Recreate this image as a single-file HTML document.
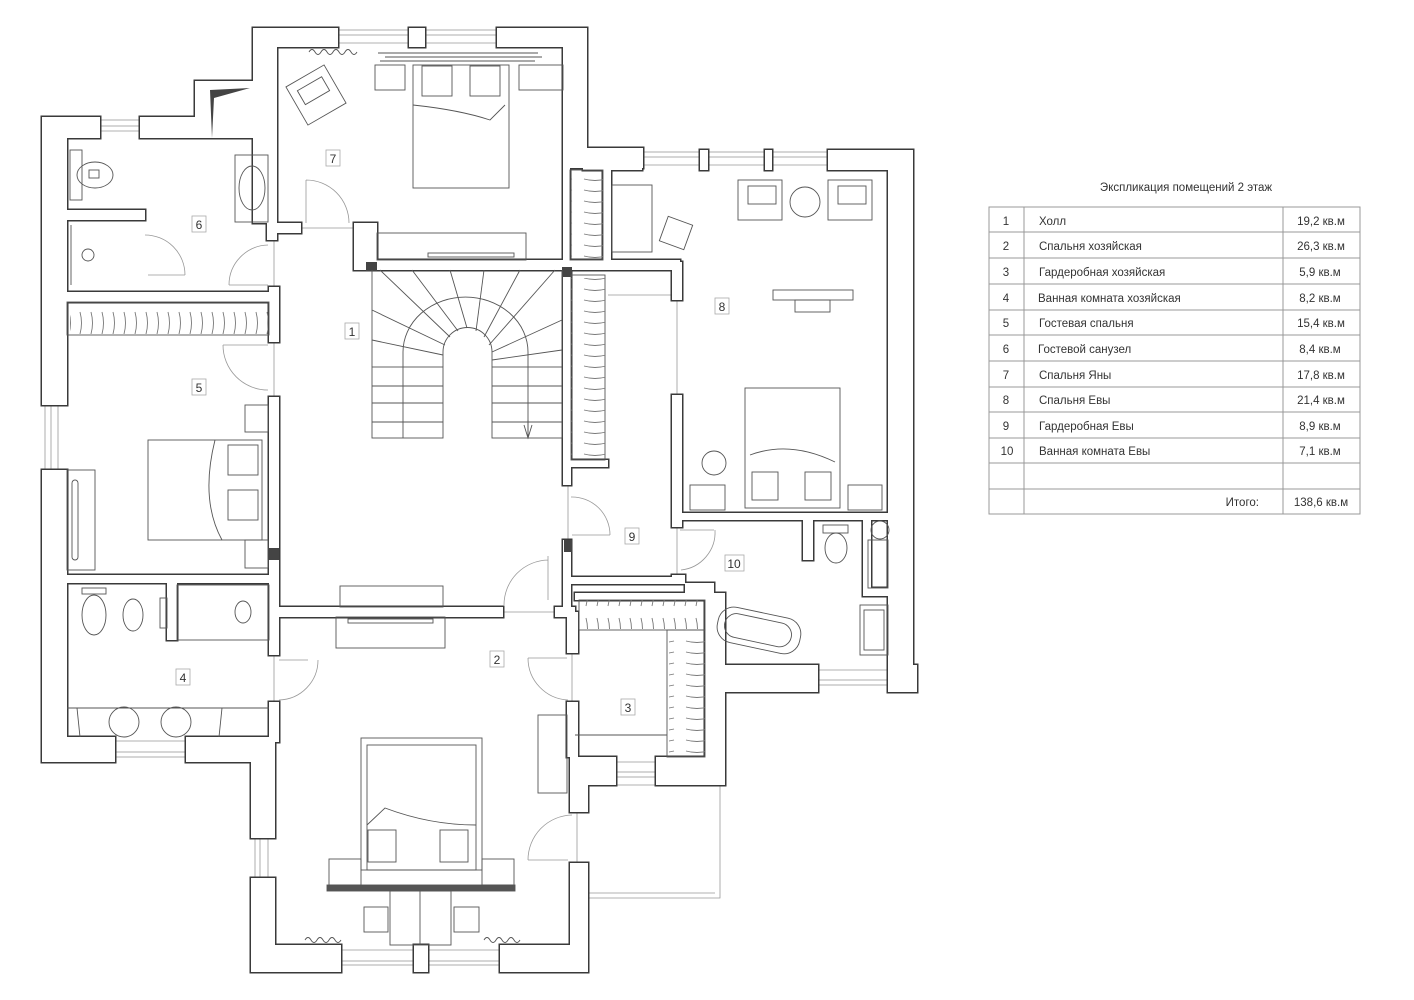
<!DOCTYPE html>
<html><head><meta charset="utf-8">
<style>
html,body{margin:0;padding:0;background:#fff;}
svg{display:block;}
text{font-family:"Liberation Sans",Arial,sans-serif;fill:#333;}
</style></head>
<body>
<svg width="1414" height="1000" viewBox="0 0 1414 1000" xmlns="http://www.w3.org/2000/svg">
<defs>
<g id="walls">
 <!-- exterior -->
 <rect x="42" y="117" width="25" height="288"/>
 <rect x="42" y="470" width="25" height="292"/>
 <rect x="42" y="737" width="73" height="25"/>
 <rect x="186" y="737" width="89" height="25"/>
 <rect x="251" y="737" width="24" height="101"/>
 <rect x="251" y="878" width="24" height="94"/>
 <rect x="251" y="945" width="90" height="27"/>
 <rect x="414" y="945" width="14" height="27"/>
 <rect x="500" y="945" width="88" height="27"/>
 <rect x="570" y="863" width="18" height="109"/>
 <rect x="570" y="784" width="18" height="28"/>
 <rect x="570" y="757" width="46" height="28"/>
 <rect x="656" y="757" width="69" height="28"/>
 <rect x="705" y="593" width="20" height="192"/>
 <rect x="705" y="665" width="113" height="27"/>
 <rect x="892" y="665" width="25" height="27"/>
 <rect x="888" y="150" width="25" height="542"/>
 <rect x="583" y="150" width="59" height="20"/>
 <rect x="700" y="150" width="8" height="20"/>
 <rect x="765" y="150" width="7" height="20"/>
 <rect x="828" y="150" width="85" height="20"/>
 <rect x="563" y="28" width="24" height="140"/>
 <rect x="563" y="148" width="80" height="20"/>
 <rect x="253" y="28" width="85" height="19"/>
 <rect x="409" y="28" width="16" height="19"/>
 <rect x="497" y="28" width="90" height="19"/>
 <rect x="253" y="28" width="24" height="195"/>
 <rect x="195" y="81" width="82" height="57"/>
 <rect x="140" y="117" width="60" height="21"/>
 <rect x="42" y="117" width="58" height="21"/>
 <!-- interior -->
 <rect x="267" y="138" width="10" height="102"/>
 <rect x="277" y="223" width="24" height="10"/>
 <rect x="354" y="223" width="23" height="47"/>
 <rect x="377" y="260" width="303" height="10"/>
 <rect x="563" y="167" width="7" height="100"/>
 <rect x="603" y="167" width="8" height="95"/>
 <rect x="563" y="267" width="8" height="218"/>
 <rect x="571" y="460" width="37" height="7"/>
 <rect x="672" y="262" width="10" height="38"/>
 <rect x="672" y="395" width="10" height="132"/>
 <rect x="672" y="513" width="216" height="7"/>
 <rect x="803" y="518" width="10" height="42"/>
 <rect x="863" y="518" width="8" height="78"/>
 <rect x="863" y="588" width="25" height="8"/>
 <rect x="672" y="575" width="13" height="8"/>
 <rect x="563" y="540" width="8" height="77"/>
 <rect x="565" y="577" width="120" height="7"/>
 <rect x="685" y="583" width="29" height="10"/>
 <rect x="269" y="287" width="10" height="55"/>
 <rect x="67" y="292" width="202" height="10"/>
 <rect x="67" y="210" width="78" height="10"/>
 <rect x="269" y="397" width="10" height="258"/>
 <rect x="67" y="575" width="202" height="8"/>
 <rect x="167" y="583" width="10" height="57"/>
 <rect x="269" y="702" width="10" height="40"/>
 <rect x="278" y="607" width="225" height="10"/>
 <rect x="555" y="607" width="20" height="10"/>
 <rect x="567" y="612" width="11" height="41"/>
 <rect x="567" y="702" width="11" height="55"/>
 <rect x="575" y="593" width="135" height="7"/>
</g>
<pattern id="hv" width="34" height="11" patternUnits="userSpaceOnUse">
 <path d="M6,3 Q17,6 28,3" fill="none" stroke="#777" stroke-width="0.9"/>
</pattern>
<pattern id="hh" width="11" height="34" patternUnits="userSpaceOnUse">
 <path d="M3,6 Q6,17 3,28" fill="none" stroke="#777" stroke-width="0.9"/>
</pattern>
</defs>

<!-- thin lines / openings -->
<g fill="none" stroke="#999" stroke-width="0.8">
 <!-- windows -->
 <rect x="100" y="120" width="40" height="6"/><line x1="100" y1="131" x2="140" y2="131"/>
 <rect x="45" y="405" width="6" height="65"/><line x1="58" y1="405" x2="58" y2="470"/>
 <rect x="115" y="752" width="71" height="5"/><line x1="115" y1="741" x2="186" y2="741"/>
 <rect x="255" y="838" width="5" height="40"/><line x1="268" y1="838" x2="268" y2="878"/>
 <rect x="341" y="961" width="73" height="4"/><line x1="341" y1="950" x2="414" y2="950"/>
 <rect x="428" y="961" width="72" height="4"/><line x1="428" y1="950" x2="500" y2="950"/>
 <rect x="616" y="772" width="40" height="5"/><line x1="616" y1="762" x2="656" y2="762"/>
 <rect x="818" y="680" width="74" height="5"/><line x1="818" y1="670" x2="892" y2="670"/>
 <rect x="642" y="152" width="58" height="5"/><line x1="642" y1="165" x2="700" y2="165"/>
 <rect x="708" y="152" width="57" height="5"/><line x1="708" y1="165" x2="765" y2="165"/>
 <rect x="772" y="152" width="56" height="5"/><line x1="772" y1="165" x2="828" y2="165"/>
 <rect x="338" y="30" width="71" height="5"/><line x1="338" y1="43" x2="409" y2="43"/>
 <rect x="425" y="30" width="72" height="5"/><line x1="425" y1="43" x2="497" y2="43"/>
 <!-- balcony -->
 <polyline points="588,785 720,785 720,898 588,898"/>
 <line x1="588" y1="893" x2="715" y2="893"/>
 <!-- door openings lines -->
 <line x1="301" y1="228" x2="354" y2="228"/>
 <line x1="274" y1="240" x2="274" y2="287"/>
 <line x1="274" y1="342" x2="274" y2="397"/>
 <line x1="274" y1="655" x2="274" y2="702"/>
 <line x1="503" y1="612" x2="555" y2="612"/>
 <line x1="568" y1="485" x2="568" y2="540"/>
 <line x1="572" y1="653" x2="572" y2="702"/>
 <line x1="677" y1="527" x2="677" y2="575"/>
 <line x1="677" y1="300" x2="677" y2="395"/>
 <line x1="577" y1="812" x2="577" y2="863"/>
 <line x1="608" y1="295" x2="672" y2="295"/>
 <!-- door arcs -->
 <path d="M306,180 V223 M306,180 A43,43 0 0 1 349,223"/>
 <path d="M229,285 H268 M229,285 A40,40 0 0 1 268,245"/>
 <path d="M223,345 H268 M223,345 A45,45 0 0 0 268,390"/>
 <path d="M148,275 H185 M145,235 A40,40 0 0 1 185,275"/>
 <path d="M279,660 H308 M279,700 A40,40 0 0 0 318,660"/>
 <path d="M548,556 V600 M504,605 A45,45 0 0 1 548,560"/>
 <path d="M572,535 H610 M571,497 A38,38 0 0 1 610,535"/>
 <path d="M680,530 H714 M681,570 A38,38 0 0 0 715,530"/>
 <path d="M528,658 H567 M528,658 A42,42 0 0 0 568,700"/>
 <path d="M528,860 H568 M528,860 A45,45 0 0 1 572,815"/>
</g>

<!-- walls -->
<use href="#walls" fill="none" stroke="#3a3a3a" stroke-width="3"/>
<use href="#walls" fill="#fff" stroke="none"/>
<!-- dark squares -->
<g fill="#444">
 <rect x="366" y="262" width="11" height="9"/>
 <rect x="562" y="267" width="10" height="10"/>
 <rect x="564" y="540" width="8" height="12"/>
 <rect x="269" y="548" width="10" height="12"/>
 <path d="M210,90 L250,88 L214,98 L212,138 Z"/>
</g>

<!-- furniture -->
<g fill="none" stroke="#555" stroke-width="0.9">
 <!-- room 7 -->
 <rect x="413" y="65" width="96" height="123"/>
 <path d="M413,105 Q460,110 490,120 L505,105"/>
 <rect x="422" y="66" width="30" height="30"/><rect x="470" y="66" width="30" height="30"/>
 <rect x="375" y="65" width="30" height="25"/><rect x="519" y="65" width="44" height="25"/>
 <line x1="378" y1="53" x2="538" y2="53"/><line x1="385" y1="57" x2="542" y2="57"/><line x1="380" y1="61" x2="535" y2="61"/>
 <g transform="rotate(-30 316 95)"><rect x="294" y="73" width="44" height="44"/><rect x="302" y="82" width="28" height="16"/></g>
 <path d="M309,52 q3,-5 6,0 q3,5 6,0 q3,-5 6,0 q3,5 6,0 q3,-5 6,0 q3,5 6,0 q3,-5 6,0 q3,5 6,0"/>
 <rect x="377" y="233" width="149" height="27"/><rect x="428" y="253" width="86" height="4"/>
 <!-- room 6 -->
 <rect x="70" y="150" width="12" height="50"/><ellipse cx="95" cy="175" rx="18" ry="13"/><rect x="89" y="170" width="10" height="8"/>
 <rect x="235" y="155" width="33" height="67"/><ellipse cx="252" cy="188" rx="13" ry="22"/>
 <line x1="71" y1="225" x2="71" y2="285"/><circle cx="88" cy="255" r="6"/>
 <!-- stair -->
 <rect x="372" y="367" width="71" height="71"/><rect x="492" y="367" width="70" height="71"/>
 <line x1="403" y1="367" x2="403" y2="438"/><line x1="528" y1="367" x2="528" y2="438"/>
 <line x1="372" y1="386" x2="443" y2="386"/><line x1="372" y1="403" x2="443" y2="403"/><line x1="372" y1="422" x2="443" y2="422"/>
 <line x1="492" y1="386" x2="562" y2="386"/><line x1="492" y1="403" x2="562" y2="403"/><line x1="492" y1="422" x2="562" y2="422"/>
 <path d="M443,367 V352 A24.5,24.5 0 0 1 492,352 V367"/>
 <path d="M403,367 V352 A62.5,55 0 0 1 528,352 V367"/>
 <line x1="372" y1="270" x2="372" y2="367"/><line x1="562" y1="270" x2="562" y2="367"/>
 <line x1="443" y1="355" x2="372" y2="340"/><line x1="445" y1="345" x2="372" y2="310"/><line x1="450" y1="337" x2="380" y2="270"/>
 <line x1="458" y1="331" x2="412" y2="270"/><line x1="467" y1="328" x2="450" y2="270"/><line x1="476" y1="331" x2="484" y2="270"/>
 <line x1="484" y1="337" x2="520" y2="270"/><line x1="489" y1="345" x2="555" y2="270"/><line x1="492" y1="352" x2="562" y2="320"/><line x1="492" y1="360" x2="562" y2="350"/>
 <path d="M528,420 V438 M524,425 L528,438 L532,425"/>
 <!-- wardrobes -->
 <rect x="570" y="170" width="33" height="90"/>
 <rect x="571" y="275" width="34" height="185"/>
 <rect x="67" y="302" width="202" height="33"/>
 <rect x="579" y="600" width="126" height="30"/>
 <rect x="667" y="630" width="38" height="127"/>
 <line x1="575" y1="735" x2="667" y2="735"/>
 <!-- room 8 -->
 <rect x="745" y="388" width="95" height="120"/>
 <path d="M750,455 Q790,440 835,462"/>
 <rect x="752" y="472" width="26" height="28"/><rect x="805" y="472" width="26" height="28"/>
 <rect x="690" y="485" width="35" height="25"/><rect x="848" y="485" width="34" height="25"/>
 <circle cx="714" cy="463" r="12"/>
 <rect x="612" y="185" width="40" height="67"/>
 <g transform="rotate(20 676 233)"><rect x="663" y="220" width="26" height="26"/></g>
 <rect x="738" y="180" width="44" height="40"/><rect x="748" y="186" width="28" height="18"/>
 <rect x="828" y="180" width="44" height="40"/><rect x="838" y="186" width="28" height="18"/>
 <circle cx="805" cy="202" r="15"/>
 <rect x="773" y="290" width="80" height="10"/><rect x="795" y="300" width="35" height="12"/>
 <!-- room 10 -->
 <rect x="823" y="525" width="25" height="8"/><ellipse cx="836" cy="548" rx="11" ry="15"/>
 <circle cx="880" cy="530" r="9"/><rect x="868" y="540" width="20" height="48"/>
 <g transform="rotate(12 757 630)"><rect x="717" y="612" width="84" height="36" rx="16"/><rect x="724" y="618" width="68" height="24" rx="12"/></g>
 <rect x="860" y="605" width="28" height="50"/><rect x="864" y="610" width="20" height="40"/>
 <!-- room 5 -->
 <rect x="148" y="440" width="114" height="100"/>
 <path d="M215,440 Q200,500 222,540"/>
 <rect x="228" y="445" width="30" height="30"/><rect x="228" y="490" width="30" height="30"/>
 <rect x="245" y="405" width="23" height="27"/><rect x="245" y="540" width="23" height="28"/>
 <rect x="67" y="470" width="28" height="100"/><rect x="72" y="480" width="6" height="80" rx="3"/>
 <!-- room 4 -->
 <rect x="82" y="588" width="24" height="6"/><ellipse cx="94" cy="615" rx="12" ry="20"/>
 <ellipse cx="133" cy="615" rx="10" ry="16"/><rect x="160" y="598" width="7" height="30"/>
 <rect x="177" y="585" width="92" height="55"/><ellipse cx="243" cy="612" rx="8" ry="11"/>
 <line x1="67" y1="708" x2="269" y2="708"/><line x1="77" y1="708" x2="80" y2="737"/><line x1="222" y1="708" x2="219" y2="737"/>
 <circle cx="124" cy="722" r="15"/><circle cx="176" cy="722" r="15"/>
 <!-- room 2 -->
 <rect x="361" y="738" width="121" height="132"/><rect x="367" y="745" width="109" height="125"/>
 <path d="M367,825 L385,808 Q430,825 476,825"/>
 <rect x="368" y="830" width="28" height="32"/><rect x="440" y="830" width="28" height="32"/>
 <rect x="329" y="859" width="32" height="26"/><rect x="482" y="859" width="32" height="26"/>
 <rect x="327" y="885" width="188" height="6" fill="#555"/>
 <rect x="390" y="891" width="61" height="54"/><line x1="420" y1="891" x2="420" y2="945"/>
 <rect x="364" y="907" width="24" height="25"/><rect x="454" y="907" width="25" height="25"/>
 <rect x="340" y="586" width="103" height="21"/><rect x="336" y="617" width="109" height="31"/><rect x="348" y="619" width="85" height="4"/>
 <rect x="538" y="715" width="29" height="78"/>
 <path d="M305,940 q3,-5 6,0 q3,5 6,0 q3,-5 6,0 q3,5 6,0 q3,-5 6,0 q3,5 6,0"/>
 <path d="M484,940 q3,-5 6,0 q3,5 6,0 q3,-5 6,0 q3,5 6,0 q3,-5 6,0 q3,5 6,0"/>
</g>
<!-- hanger patterns -->
<rect x="571" y="172" width="32" height="86" fill="url(#hv)"/>
<rect x="571" y="278" width="34" height="180" fill="url(#hv)"/>
<rect x="669" y="632" width="36" height="123" fill="url(#hv)"/>
<rect x="70" y="303" width="198" height="31" fill="url(#hh)"/>
<rect x="582" y="600" width="122" height="29" fill="url(#hh)"/>

<!-- room labels -->
<g font-size="12" text-anchor="middle">
 <g fill="#fff" stroke="#aaa" stroke-width="0.8">
  <rect x="326" y="150" width="14" height="16"/><rect x="192" y="216" width="14" height="16"/>
  <rect x="345" y="323" width="14" height="16"/><rect x="192" y="379" width="14" height="16"/>
  <rect x="715" y="298" width="14" height="16"/><rect x="625" y="528" width="14" height="16"/>
  <rect x="725" y="555" width="19" height="16"/><rect x="490" y="651" width="14" height="16"/>
  <rect x="176" y="669" width="14" height="16"/><rect x="621" y="699" width="14" height="16"/>
 </g>
 <text x="333" y="163">7</text><text x="199" y="229">6</text><text x="352" y="336">1</text>
 <text x="199" y="392">5</text><text x="722" y="311">8</text><text x="632" y="541">9</text>
 <text x="734" y="568">10</text><text x="497" y="664">2</text><text x="183" y="682">4</text><text x="628" y="712">3</text>
</g>

<!-- table -->
<text x="1186" y="191" font-size="11.5" text-anchor="middle">Экспликация помещений 2 этаж</text>
<g stroke="#999" stroke-width="1" fill="none">
 <rect x="989" y="207" width="371" height="307"/>
 <line x1="1024" y1="207" x2="1024" y2="514"/><line x1="1283" y1="207" x2="1283" y2="514"/>
 <line x1="989" y1="232" x2="1360" y2="232"/><line x1="989" y1="258" x2="1360" y2="258"/>
 <line x1="989" y1="284" x2="1360" y2="284"/><line x1="989" y1="310" x2="1360" y2="310"/>
 <line x1="989" y1="335" x2="1360" y2="335"/><line x1="989" y1="361" x2="1360" y2="361"/>
 <line x1="989" y1="387" x2="1360" y2="387"/><line x1="989" y1="412" x2="1360" y2="412"/>
 <line x1="989" y1="438" x2="1360" y2="438"/><line x1="989" y1="463" x2="1360" y2="463"/>
 <line x1="989" y1="489" x2="1360" y2="489"/>
</g>
<g font-size="11.5">
 <g text-anchor="middle">
  <text x="1006" y="225">1</text><text x="1006" y="250">2</text><text x="1006" y="276">3</text>
  <text x="1006" y="302">4</text><text x="1006" y="327">5</text><text x="1006" y="353">6</text>
  <text x="1006" y="379">7</text><text x="1006" y="404">8</text><text x="1006" y="430">9</text><text x="1007" y="455">10</text>
 </g>
 <text x="1039" y="225">Холл</text><text x="1039" y="250">Спальня хозяйская</text>
 <text x="1039" y="276">Гардеробная хозяйская</text><text x="1038" y="302">Ванная комната хозяйская</text>
 <text x="1039" y="327">Гостевая спальня</text><text x="1038" y="353">Гостевой санузел</text>
 <text x="1039" y="379">Спальня Яны</text><text x="1039" y="404">Спальня Евы</text>
 <text x="1039" y="430">Гардеробная Евы</text><text x="1039" y="455">Ванная комната Евы</text>
 <text x="1259" y="506" text-anchor="end">Итого:</text>
 <g text-anchor="middle">
  <text x="1321" y="225">19,2 кв.м</text><text x="1321" y="250">26,3 кв.м</text><text x="1320" y="276">5,9 кв.м</text>
  <text x="1320" y="302">8,2 кв.м</text><text x="1321" y="327">15,4 кв.м</text><text x="1320" y="353">8,4 кв.м</text>
  <text x="1321" y="379">17,8 кв.м</text><text x="1321" y="404">21,4 кв.м</text><text x="1320" y="430">8,9 кв.м</text>
  <text x="1320" y="455">7,1 кв.м</text><text x="1321" y="506">138,6 кв.м</text>
 </g>
</g>
</svg>
</body></html>
